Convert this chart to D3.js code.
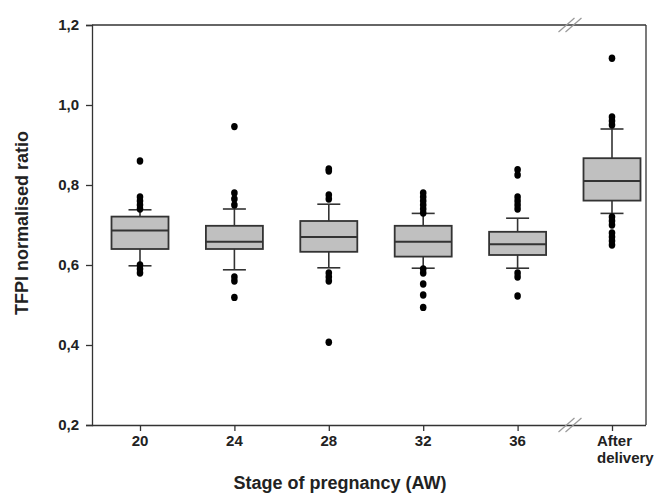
<!DOCTYPE html>
<html><head><meta charset="utf-8">
<script src="https://cdn.jsdelivr.net/npm/d3@7"></script>
<style>body{margin:0;background:#fff}svg{display:block}text{font-family:"Liberation Sans",Arial,sans-serif;font-weight:bold;fill:#222}</style>
</head><body><svg id="c" width="657" height="493"></svg>
<script>
const categories = ["20","24","28","32","36","After delivery"];
const whiskerLow = [0.598,0.588,0.593,0.592,0.592,0.729];
const q1 = [0.640,0.640,0.633,0.621,0.625,0.761];
const median = [0.686,0.658,0.670,0.658,0.652,0.810];
const q3 = [0.721,0.698,0.710,0.698,0.683,0.867];
const whiskerHigh = [0.738,0.740,0.752,0.729,0.717,0.940];
const outliers = [
  [0.86,0.77,0.76,0.75,0.74,0.60,0.59,0.58],
  [0.946,0.78,0.765,0.75,0.57,0.56,0.519],
  [0.84,0.835,0.775,0.765,0.58,0.57,0.56,0.407],
  [0.78,0.77,0.76,0.75,0.74,0.73,0.59,0.58,0.5525,0.525,0.494],
  [0.838,0.825,0.77,0.76,0.75,0.74,0.58,0.57,0.5225],
  [1.117,0.97,0.96,0.95,0.72,0.71,0.70,0.68,0.67,0.66,0.65]
];
const yTicks = [0.2,0.4,0.6,0.8,1.0,1.2];

const svg = d3.select("#c");
const L = 92, R = 646, T = 25, B = 425;
const x = d3.scalePoint().domain(categories).range([140, 612]);
const y = d3.scaleLinear().domain([0.2, 1.2]).range([B, T]);
const axisCol = "#333";

// frame: top and right
svg.append("line").attr("x1",L).attr("x2",R).attr("y1",T).attr("y2",T).attr("stroke",axisCol).attr("stroke-width",1.3);
svg.append("line").attr("x1",R).attr("x2",R).attr("y1",T).attr("y2",B).attr("stroke",axisCol).attr("stroke-width",1.3);

// y axis
const ya = svg.append("g").attr("transform",`translate(${L},0)`)
  .call(d3.axisLeft(y).tickValues(yTicks).tickSize(6).tickPadding(7).tickFormat(d => d3.format(".1f")(d).replace(".",",")));
ya.select(".domain").attr("stroke",axisCol).attr("stroke-width",1.3);
ya.selectAll(".tick line").attr("stroke",axisCol).attr("stroke-width",1.3);
ya.selectAll("text").attr("font-size",15).attr("font-family","Liberation Sans, Arial, sans-serif").attr("font-weight","bold").attr("fill","#222");

// x axis
const xa = svg.append("g").attr("transform",`translate(0,${B})`)
  .call(d3.axisBottom(x).tickSize(6).tickFormat(""));
xa.select(".domain").attr("d",`M${L},0.5H${R}`).attr("stroke",axisCol).attr("stroke-width",1.3);
xa.selectAll(".tick line").attr("stroke",axisCol).attr("stroke-width",1.3);

categories.forEach((c,i) => {
  if (i < 5) {
    svg.append("text").attr("x", x(c)).attr("y", 446).attr("text-anchor","middle").attr("font-size",15).text(c);
  } else {
    const words = c.split(" ");
    svg.append("text").attr("x", x(c)-15).attr("y", 446).attr("font-size",15).text(words[0]);
    svg.append("text").attr("x", x(c)-15).attr("y", 463).attr("font-size",15).text(words[1]);
  }
});

// axis break marks
function brk(cx, cy){
  [-3.5, 3.5].forEach(o => {
    svg.append("line").attr("x1",cx+o-8).attr("y1",cy+7).attr("x2",cx+o+8).attr("y2",cy-7)
      .attr("stroke","#999").attr("stroke-width",1.2);
  });
}
brk(570, B);
brk(570, T);

// titles
svg.append("text").attr("x",340).attr("y",489).attr("text-anchor","middle").attr("font-size",18).text("Stage of pregnancy (AW)");
svg.append("text").attr("transform","translate(28,223) rotate(-90)").attr("text-anchor","middle").attr("font-size",18).text("TFPI normalised ratio");

// boxes
const bw = 57, cw = 23;
const g = svg.append("g");
categories.forEach((c,i) => {
  const cx = x(c);
  const ln = (x1,y1,x2,y2) => g.append("line").attr("x1",x1).attr("y1",y1).attr("x2",x2).attr("y2",y2).attr("stroke","#333").attr("stroke-width",1.6);
  ln(cx, y(whiskerHigh[i]), cx, y(q3[i]));
  ln(cx, y(whiskerLow[i]), cx, y(q1[i]));
  ln(cx-cw/2, y(whiskerHigh[i]), cx+cw/2, y(whiskerHigh[i]));
  ln(cx-cw/2, y(whiskerLow[i]), cx+cw/2, y(whiskerLow[i]));
  g.append("rect").attr("x",cx-bw/2).attr("y",y(q3[i])).attr("width",bw).attr("height",y(q1[i])-y(q3[i]))
    .attr("fill","#c0c0c0").attr("stroke","#333").attr("stroke-width",1.8);
  ln(cx-bw/2, y(median[i]), cx+bw/2, y(median[i])).attr("stroke-width",2);
  outliers[i].forEach(v => {
    g.append("ellipse").attr("cx",cx).attr("cy",y(v)).attr("rx",3.3).attr("ry",3.7).attr("fill","#000");
  });
});
</script></body></html>
